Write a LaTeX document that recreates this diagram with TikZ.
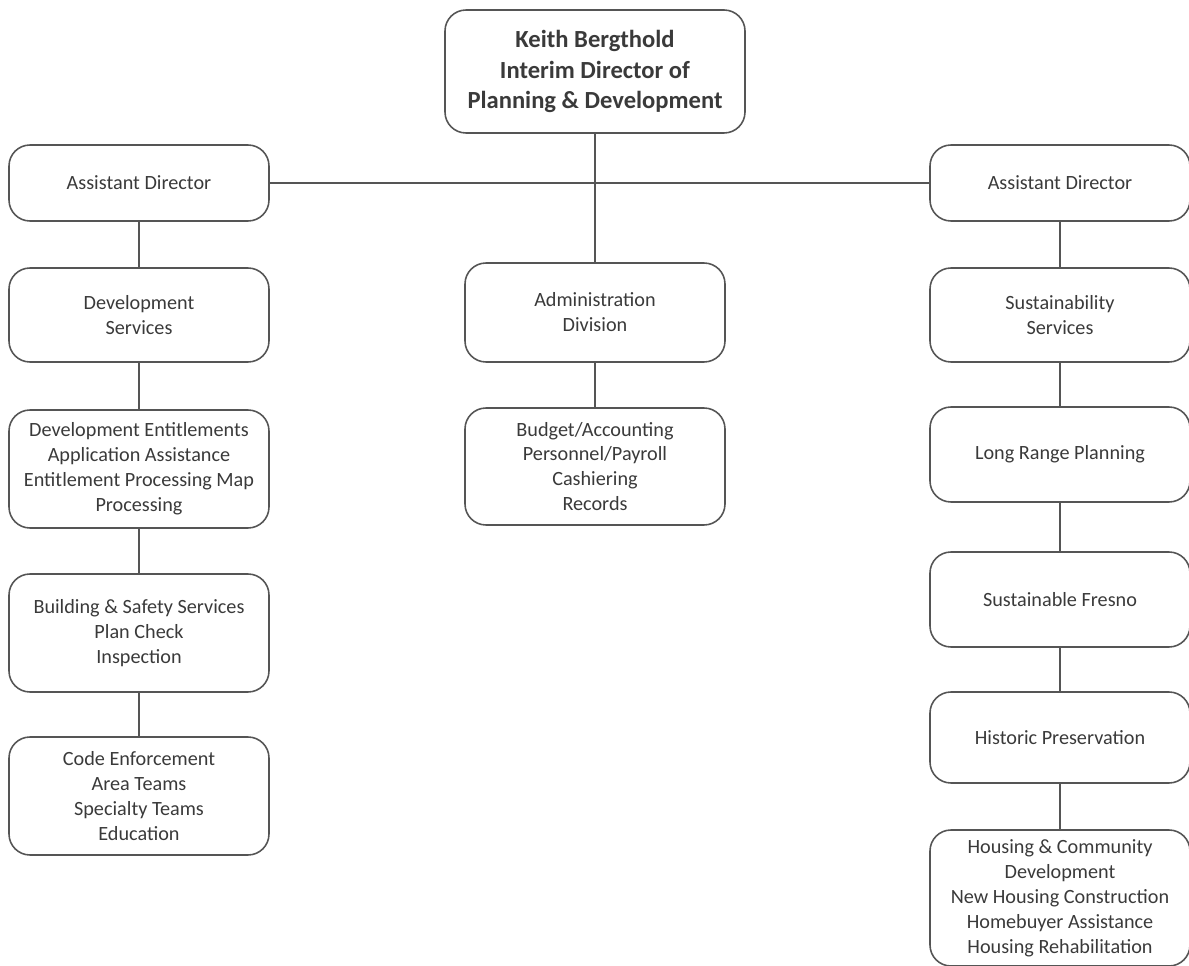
\documentclass[tikz,border=0pt]{standalone}
\usepackage{fontspec}
\setmainfont{Carlito}
\usepackage{tikz}
\usetikzlibrary{positioning}
\definecolor{boxline}{HTML}{555555}
\definecolor{boxtext}{HTML}{3A3A3A}

\begin{document}
\begin{tikzpicture}[
    unit/.style={draw=boxline, line width=0.9pt, rounded corners=0.42cm,
        text=boxtext, align=center, minimum width=5.2cm, inner sep=2pt,
        font=\fontsize{11.5}{14.2}\selectfont},
    head/.style={unit, minimum width=6.0cm, minimum height=2.46cm,
        font=\fontsize{14}{17.6}\selectfont\bfseries},
    link/.style={draw=boxline, line width=0.9pt}
]
\useasboundingbox (0,0) rectangle (23.78,-19.32);
% director
\node[head] (dir) at (11.9,-1.43) {Keith Bergthold\\Interim Director of\\Planning \& Development};
% assistant directors
\node[unit, minimum height=1.52cm] (adL) at (2.78,-3.66) {Assistant Director};
\node[unit, minimum height=1.52cm] (adR) at (21.2,-3.66) {Assistant Director};
% left column
\node[unit, minimum height=1.88cm] (devsvc) at (2.78,-6.30) {Development\\Services};
\node[unit, minimum height=2.36cm] (devent) at (2.78,-9.38) {Development Entitlements\\Application Assistance\\Entitlement Processing Map\\Processing};
\node[unit, minimum height=2.36cm] (build) at (2.78,-12.66) {Building \& Safety Services\\Plan Check\\Inspection};
\node[unit, minimum height=2.36cm] (code) at (2.78,-15.92) {Code Enforcement\\Area Teams\\Specialty Teams\\Education};
% middle column
\node[unit, minimum height=1.98cm] (admin) at (11.9,-6.25) {Administration\\Division};
\node[unit, minimum height=2.34cm] (budget) at (11.9,-9.33) {Budget/Accounting\\Personnel/Payroll\\Cashiering\\Records};
% right column
\node[unit, minimum height=1.88cm] (sussvc) at (21.2,-6.30) {Sustainability\\Services};
\node[unit, minimum height=1.90cm] (lrp) at (21.2,-9.09) {Long Range Planning};
\node[unit, minimum height=1.90cm] (fresno) at (21.2,-11.99) {Sustainable Fresno};
\node[unit, minimum height=1.82cm] (hist) at (21.2,-14.75) {Historic Preservation};
\node[unit, minimum height=2.72cm] (housing) at (21.2,-17.96) {Housing \& Community\\Development\\New Housing Construction\\Homebuyer Assistance\\Housing Rehabilitation};
% connectors
\draw[link] (adL.east) -- (adR.west);
\draw[link] (dir.south) -- (admin.north);
\draw[link] (admin) -- (budget);
\draw[link] (adL) -- (devsvc);
\draw[link] (devsvc) -- (devent);
\draw[link] (devent) -- (build);
\draw[link] (build) -- (code);
\draw[link] (adR) -- (sussvc);
\draw[link] (sussvc) -- (lrp);
\draw[link] (lrp) -- (fresno);
\draw[link] (fresno) -- (hist);
\draw[link] (hist) -- (housing);
\end{tikzpicture}
\end{document}
